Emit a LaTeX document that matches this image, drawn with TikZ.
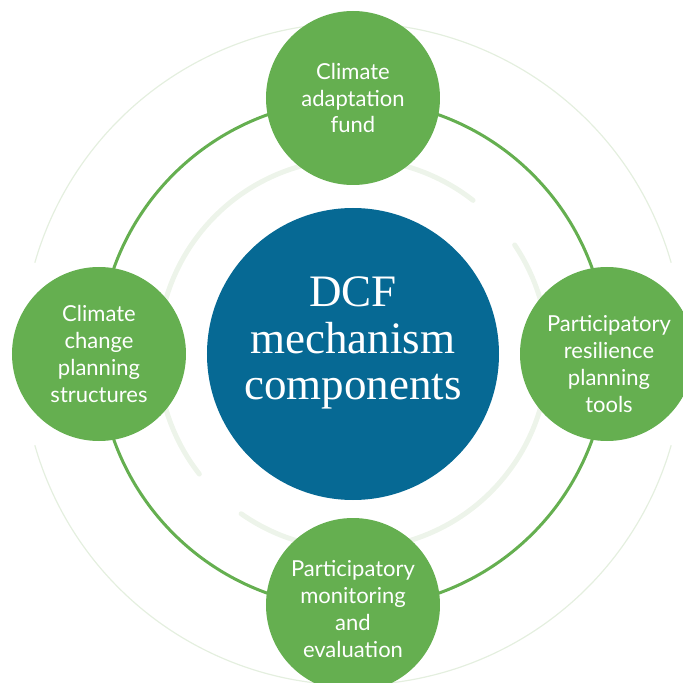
\documentclass[tikz,border=0pt]{standalone}
\usepackage{fontspec}
\setmainfont{Liberation Serif}
\newfontfamily\labelfont{Lato}
\definecolor{leaf}{HTML}{65AF50}
\definecolor{ocean}{HTML}{066994}
\definecolor{mist}{HTML}{EDF4EA}
\definecolor{haze}{HTML}{E4EFDF}
\begin{document}
\begin{tikzpicture}[x=1pt,y=1pt,
  part/.style={circle,fill=leaf,minimum size=174pt,inner sep=0pt},
  partlabel/.style={text=white,align=center,font=\labelfont\fontsize{22}{26.7}\selectfont},
  hub/.style={circle,fill=ocean,minimum size=292pt,inner sep=0pt},
  hublabel/.style={text=white,align=center,font=\fontsize{45}{46.5}\selectfont}]
\useasboundingbox (-353,-329) rectangle (330,354);
% faint outer rings
\draw[haze,line width=1.2pt] (16:331) arc (16:164:331);
\draw[haze,line width=1.2pt] (196:331) arc (196:344:331);
% faint inner arcs
\draw[mist,line width=5pt,line cap=round] (52:195) arc (52:218:195);
\draw[mist,line width=5pt,line cap=round] (235:195) arc (235:394:195);
% main ring
\draw[leaf,line width=3pt] (0,0) circle (254);
% central hub
\node[hub] (hub) at (0,0) {};
\node[hublabel] (hubtext) at (0,11) {DCF\\mechanism\\components};
% four components
\node[part] (fund) at (0,256) {};
\node[partlabel] (fundtext) at (fund) {Climate\\adaptation\\fund};
\node[part] (struct) at (-254,0) {};
\node[partlabel] (structtext) at (struct) {Climate\\change\\planning\\structures};
\node[part] (tools) at (254,0) {};
\node[partlabel] (toolstext) at (256,-10) {Participatory\\resilience\\planning\\tools};
\node[part] (eval) at (0,-251) {};
\node[partlabel] (evaltext) at (0,-255) {Participatory\\monitoring\\and\\evaluation};
\end{tikzpicture}
\end{document}
